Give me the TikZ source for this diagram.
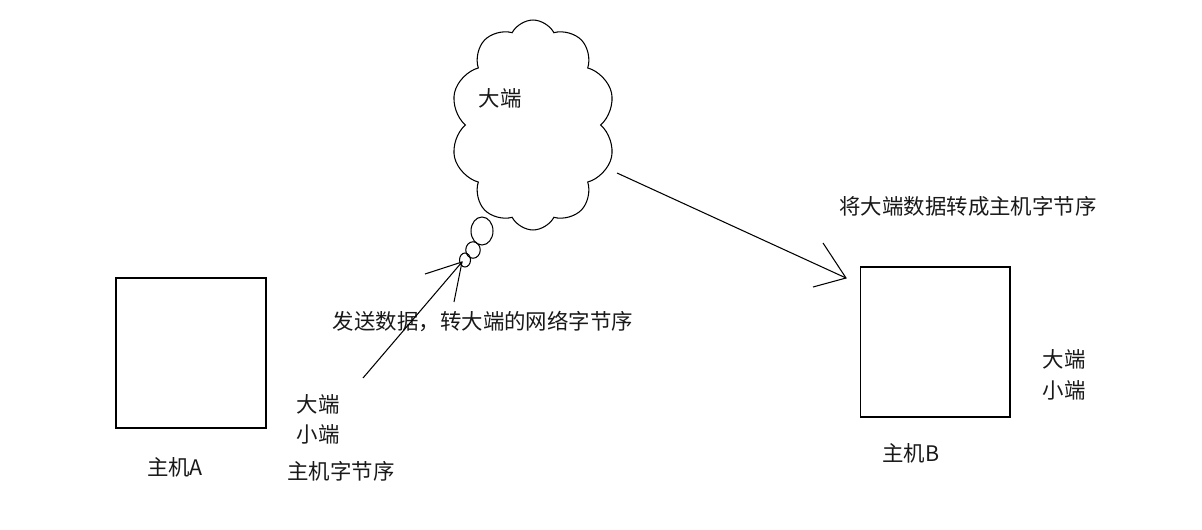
\documentclass[tikz,border=0pt]{standalone}
\usepackage{fontspec}
\setmainfont{Noto Sans CJK SC}
\usetikzlibrary{shapes.symbols,shapes.geometric}
\tikzset{
  ln/.style={line width=0.6pt, black},
  hostbox/.style={draw, line width=0.6pt, minimum width=3cm, minimum height=3cm, inner sep=0pt},
  lbl/.style={font=\fontsize{12.2}{14}\selectfont, inner sep=0pt, text=black!90},
  bubble/.style={draw, line width=0.6pt, ellipse, inner sep=0pt},
}
\begin{document}
\begin{tikzpicture}[x=0.02cm, y=-0.02cm]
\useasboundingbox (0,0) rectangle (1202,530);
% hosts
\node[hostbox] (A) at (191,353) {};
\node[hostbox] (B) at (935,342) {};
\node[lbl] (la) at (175,467) {主机A};
\node[lbl] (lb) at (911,453) {主机B};
% left labels
\node[lbl] (abig) at (318,404) {大端};
\node[lbl] (asmall) at (318,434) {小端};
\node[lbl] (aorder) at (341,471) {主机字节序};
% right labels
\node[lbl] (bbig) at (1064,359) {大端};
\node[lbl] (bsmall) at (1064,390) {小端};
\node[lbl] (conv) at (968,206) {将大端数据转成主机字节序};
\node[lbl] (send) at (483,322) {发送数据，转大端的网络字节序};
% cloud
\node[cloud, draw, line width=0.6pt, cloud puffs=10, cloud puff arc=125, cloud ignores aspect,
      minimum width=3.3cm, minimum height=4.2cm, inner sep=0pt] (cl) at (533,125) {};
\node[lbl] (cltext) at (500,98) {大端};
% thought bubbles
\node[bubble, minimum width=0.44cm, minimum height=0.56cm] (b1) at (482,231) {};
\node[bubble, minimum width=0.29cm, minimum height=0.33cm] (b2) at (473,250) {};
\node[bubble, minimum width=0.22cm, minimum height=0.28cm] (b3) at (465,260) {};
% arrow 1 (from host A area up to bubble)
\coordinate (s1) at (363,378);
\coordinate (t1) at (462,262);
\coordinate (h1a) at (425,274);
\coordinate (h1b) at (454,302);
\draw[ln] (s1) -- (t1);
\draw[ln] (h1a) -- (t1) -- (h1b);
% arrow 2 (from cloud to host B)
\coordinate (s2) at (617,173);
\coordinate (t2) at (846,278);
\coordinate (h2a) at (823,243);
\coordinate (h2b) at (813,287);
\draw[ln] (s2) -- (t2);
\draw[ln] (h2a) -- (t2) -- (h2b);
\end{tikzpicture}
\end{document}
